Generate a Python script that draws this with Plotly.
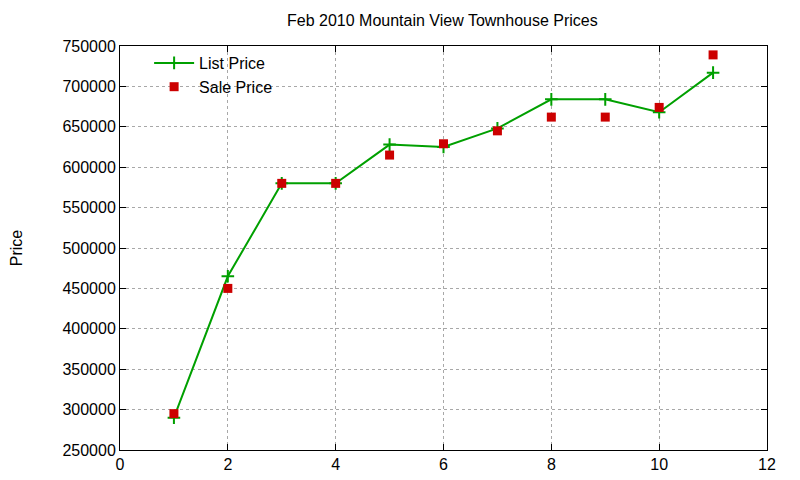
import plotly.graph_objects as go

# dados
meses = [1, 2, 3, 4, 5, 6, 7, 8, 9, 10, 11]
preco_lista = [290000, 465000, 580000, 580000, 628000, 625000, 648000, 684000, 684000, 668000, 717000]
preco_venda = [295000, 450000, 580000, 580000, 615000, 629000, 645000, 662000, 662000, 674000, 739000]

fonte = "Liberation Sans, Arial, sans-serif"

fig = go.Figure()

fig.add_scatter(x=meses, y=preco_lista, name="List Price", mode="lines+markers",
                line=dict(color="#00a000", width=2),
                marker=dict(symbol="cross-thin", size=9, line=dict(color="#00a000", width=2)))

fig.add_scatter(x=meses, y=preco_venda, name="Sale Price", mode="markers",
                marker=dict(symbol="square", size=9, color="#cc0000"))

eixo = dict(showline=True, linecolor="black", linewidth=1, mirror="allticks",
            ticks="inside", ticklen=6, tickcolor="black", automargin=False,
            showgrid=True, gridcolor="#a8a8a8", griddash="dot", gridwidth=1,
            zeroline=False, tickfont=dict(size=16, color="black"))

fig.update_xaxes(range=[0, 12], dtick=2, **eixo)
fig.update_yaxes(range=[250000, 750000], dtick=50000, tickformat="d",
                 title=dict(text="Price", font=dict(size=16, color="black"), standoff=95), **eixo)

# a pagina tem margem de ~8px, por isso as margens estao deslocadas
fig.update_layout(
    width=800, height=480,
    margin=dict(l=112, r=41, t=38, b=38),
    plot_bgcolor="white", paper_bgcolor="white",
    font=dict(family=fonte, size=16, color="black"),
    title=dict(text="Feb 2010 Mountain View Townhouse Prices", x=0.543, xanchor="center",
               y=0.975, yanchor="middle", yref="container", automargin=False,
               font=dict(size=16, color="black")),
    legend=dict(x=0.045, y=1.0, xanchor="left", yanchor="top", bgcolor="rgba(0,0,0,0)",
                font=dict(size=16), tracegroupgap=0, itemwidth=40),
    showlegend=True,
)

fig.write_html("out.html")
